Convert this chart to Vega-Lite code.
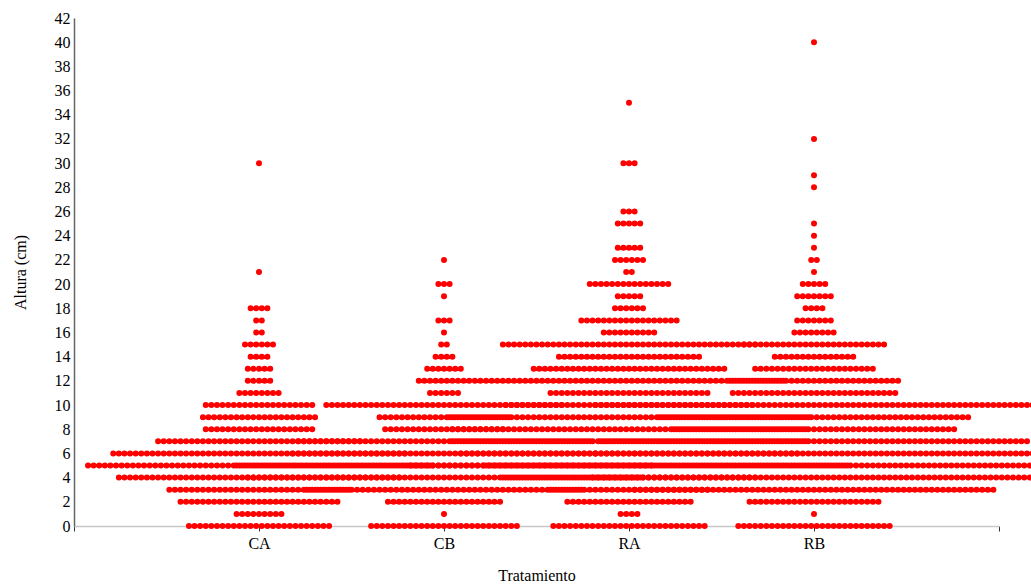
{
  "$schema": "https://vega.github.io/schema/vega-lite/v6.json",
  "width": 925,
  "height": 508,
  "autosize": "none",
  "padding": {"left": 74, "top": 18, "right": 32, "bottom": 59},
  "background": "white",
  "view": {"stroke": null},
  "config": {"font": "Liberation Serif"},
  "data": {
    "values": [
      {"t":"CA","h":0,"n":26},{"t":"CA","h":1,"n":9},{"t":"CA","h":2,"n":29},{"t":"CA","h":3,"n":33},{"t":"CA","h":4,"n":51},{"t":"CA","h":5,"n":62},{"t":"CA","h":6,"n":53},{"t":"CA","h":7,"n":37},{"t":"CA","h":8,"n":20},{"t":"CA","h":9,"n":21},{"t":"CA","h":10,"n":20},{"t":"CA","h":11,"n":8},{"t":"CA","h":12,"n":5},{"t":"CA","h":13,"n":5},{"t":"CA","h":14,"n":4},{"t":"CA","h":15,"n":6},{"t":"CA","h":16,"n":2},{"t":"CA","h":17,"n":2},{"t":"CA","h":18,"n":4},{"t":"CA","h":21,"n":1},{"t":"CA","h":30,"n":1},
      {"t":"CB","h":0,"n":27},{"t":"CB","h":1,"n":1},{"t":"CB","h":2,"n":21},{"t":"CB","h":3,"n":50},{"t":"CB","h":4,"n":71},{"t":"CB","h":5,"n":75},{"t":"CB","h":6,"n":55},{"t":"CB","h":7,"n":53},{"t":"CB","h":8,"n":22},{"t":"CB","h":9,"n":24},{"t":"CB","h":10,"n":43},{"t":"CB","h":11,"n":6},{"t":"CB","h":12,"n":10},{"t":"CB","h":13,"n":7},{"t":"CB","h":14,"n":4},{"t":"CB","h":15,"n":2},{"t":"CB","h":16,"n":1},{"t":"CB","h":17,"n":3},{"t":"CB","h":19,"n":1},{"t":"CB","h":20,"n":3},{"t":"CB","h":22,"n":1},
      {"t":"RA","h":0,"n":28},{"t":"RA","h":1,"n":4},{"t":"RA","h":2,"n":23},{"t":"RA","h":3,"n":29},{"t":"RA","h":4,"n":46},{"t":"RA","h":5,"n":79},{"t":"RA","h":6,"n":61},{"t":"RA","h":7,"n":64},{"t":"RA","h":8,"n":64},{"t":"RA","h":9,"n":65},{"t":"RA","h":10,"n":45},{"t":"RA","h":11,"n":29},{"t":"RA","h":12,"n":56},{"t":"RA","h":13,"n":35},{"t":"RA","h":14,"n":26},{"t":"RA","h":15,"n":46},{"t":"RA","h":16,"n":10},{"t":"RA","h":17,"n":18},{"t":"RA","h":18,"n":6},{"t":"RA","h":19,"n":5},{"t":"RA","h":20,"n":15},{"t":"RA","h":21,"n":2},{"t":"RA","h":22,"n":6},{"t":"RA","h":23,"n":5},{"t":"RA","h":25,"n":5},{"t":"RA","h":26,"n":3},{"t":"RA","h":30,"n":3},{"t":"RA","h":35,"n":1},
      {"t":"RB","h":0,"n":28},{"t":"RB","h":1,"n":1},{"t":"RB","h":2,"n":24},{"t":"RB","h":3,"n":65},{"t":"RB","h":4,"n":80},{"t":"RB","h":5,"n":118},{"t":"RB","h":6,"n":79},{"t":"RB","h":7,"n":77},{"t":"RB","h":8,"n":51},{"t":"RB","h":9,"n":56},{"t":"RB","h":10,"n":79},{"t":"RB","h":11,"n":30},{"t":"RB","h":12,"n":31},{"t":"RB","h":13,"n":22},{"t":"RB","h":14,"n":15},{"t":"RB","h":15,"n":26},{"t":"RB","h":16,"n":8},{"t":"RB","h":17,"n":7},{"t":"RB","h":18,"n":4},{"t":"RB","h":19,"n":7},{"t":"RB","h":20,"n":5},{"t":"RB","h":21,"n":1},{"t":"RB","h":22,"n":2},{"t":"RB","h":23,"n":1},{"t":"RB","h":24,"n":1},{"t":"RB","h":25,"n":1},{"t":"RB","h":28,"n":1},{"t":"RB","h":29,"n":1},{"t":"RB","h":32,"n":1},{"t":"RB","h":40,"n":1}
    ]
  },
  "transform": [
    {"calculate": "indexof(['CA','CB','RA','RB'], datum.t) + 1", "as": "c"},
    {"calculate": "datum.c - (datum.n - 1) / 66", "as": "xa"},
    {"calculate": "datum.c + (datum.n - 1) / 66 + 0.006", "as": "xb"}
  ],
  "mark": {"type": "rule", "color": "#ff0000", "strokeWidth": 6, "strokeCap": "round", "strokeDash": [0, 5.6061]},
  "encoding": {
    "y": {
      "field": "h", "type": "quantitative",
      "scale": {"domain": [0, 42], "nice": false, "zero": false},
      "axis": {
        "title": "Altura (cm)", "values": [0,2,4,6,8,10,12,14,16,18,20,22,24,26,28,30,32,34,36,38,40,42],
        "grid": false, "ticks": false, "labelPadding": 4, "labelFontSize": 16, "labelColor": "#000",
        "domainColor": "#666", "domainWidth": 1.5,
        "titleFontSize": 16, "titleFontWeight": "normal", "titleColor": "#000", "titlePadding": 26
      }
    },
    "x": {
      "field": "xa", "type": "quantitative",
      "scale": {"domain": [0, 5], "nice": false, "zero": false},
      "axis": {
        "title": "Tratamiento", "values": [0,1,2,3,4,5],
        "labelExpr": "['','CA','CB','RA','RB',''][datum.value]",
        "grid": false, "tickSize": 5, "tickColor": "#333", "labelPadding": 4, "labelFontSize": 16, "labelColor": "#000",
        "domainColor": "#c8c8c8", "domainWidth": 1.5,
        "titleFontSize": 16, "titleFontWeight": "normal", "titleColor": "#000", "titlePadding": 16
      }
    },
    "x2": {"field": "xb"}
  }
}
